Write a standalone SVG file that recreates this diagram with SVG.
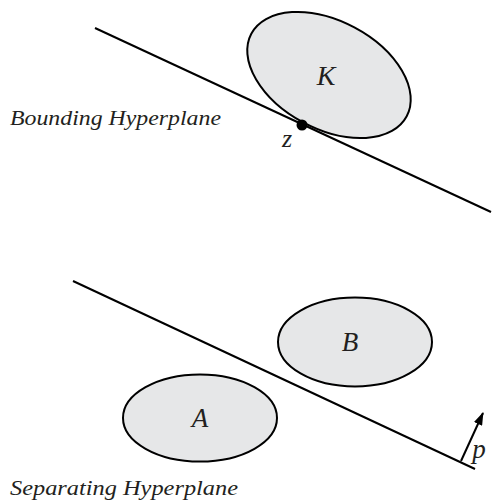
<svg xmlns="http://www.w3.org/2000/svg" width="492" height="502" viewBox="0 0 492 502">
<style>
.shape{fill:#e6e7e8;stroke:#000;stroke-width:2}
.ln{stroke:#000;stroke-width:2;fill:none}
.t{font-family:"Liberation Serif","Times New Roman",serif;font-style:italic;fill:#231f20}
</style>
<defs>
<marker id="ah" viewBox="0 0 13 9" refX="12" refY="4.5" markerWidth="13" markerHeight="9" orient="auto" markerUnits="userSpaceOnUse">
<path d="M0,0 L13,4.5 L0,9 z" fill="#000"/>
</marker>
</defs>
<rect width="492" height="502" fill="#fff"/>
<g id="connectors">
<line class="ln" x1="95" y1="28" x2="491" y2="212"/>
<line class="ln" x1="73" y1="281" x2="475" y2="469"/>
<line class="ln" x1="461" y1="461" x2="483" y2="413" marker-end="url(#ah)"/>
</g>
<g id="K">
<ellipse class="shape" cx="329" cy="75" rx="88" ry="54" transform="rotate(28 329 75)"/>
<text class="t" x="326" y="85" font-size="28" text-anchor="middle">K</text>
</g>
<g id="z">
<circle cx="302" cy="125" r="5.5" fill="#000"/>
<text class="t" x="287" y="147" font-size="26" text-anchor="middle">z</text>
</g>
<g id="B">
<ellipse class="shape" cx="355" cy="342" rx="77" ry="44.5"/>
<text class="t" x="350" y="351" font-size="27" text-anchor="middle">B</text>
</g>
<g id="A">
<ellipse class="shape" cx="200" cy="418" rx="77" ry="43.5"/>
<text class="t" x="200" y="427" font-size="27" text-anchor="middle">A</text>
</g>
<text class="t" x="479" y="458" font-size="27" text-anchor="middle">p</text>
<text class="t" x="10" y="125" font-size="21" textLength="211" lengthAdjust="spacingAndGlyphs">Bounding Hyperplane</text>
<text class="t" x="10" y="495" font-size="21" textLength="228" lengthAdjust="spacingAndGlyphs">Separating Hyperplane</text>
</svg>
